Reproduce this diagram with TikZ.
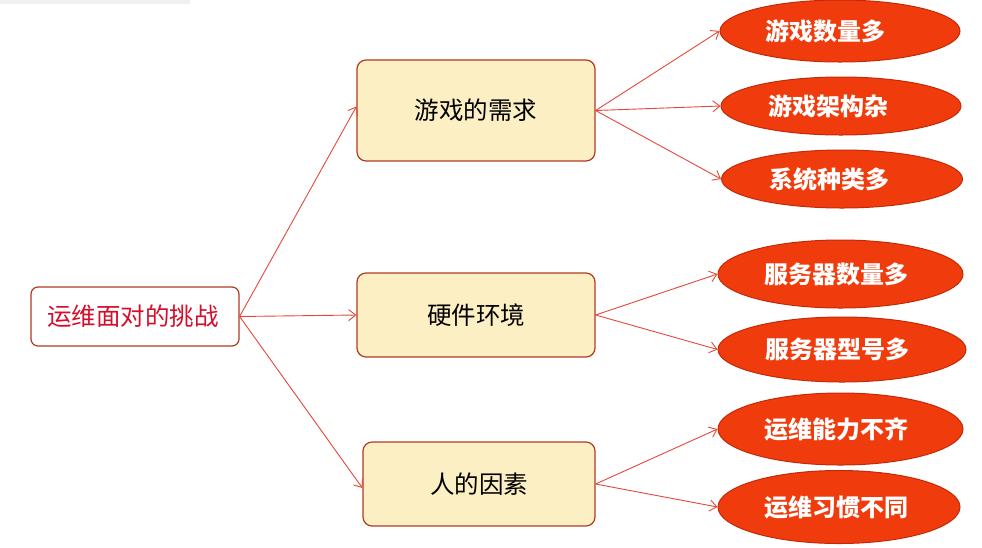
\documentclass[tikz,border=0pt]{standalone}
\usepackage{fontspec}
\newfontfamily\cjk{Noto Sans CJK SC}
\usetikzlibrary{arrows.meta,shapes.geometric}
\definecolor{boxfill}{HTML}{FDEFC4}
\definecolor{boxedge}{HTML}{B03A22}
\definecolor{ellfill}{HTML}{F03C0C}
\definecolor{elledge}{HTML}{C42A08}
\definecolor{roottext}{HTML}{D40F2C}
\definecolor{arrowc}{HTML}{E5473A}
\newcommand{\lft}[1]{\kern-#1pt}
\begin{document}
\begin{tikzpicture}[x=1pt,y=-1pt,
  txt/.style={font=\cjk\fontsize{24.5}{26}\selectfont},
  rootbox/.style={txt,draw=boxedge,line width=1.2pt,fill=white,rounded corners=7pt,
    minimum width=208pt,minimum height=59pt,inner sep=0pt,text=roottext},
  midbox/.style={txt,draw=boxedge,line width=1.2pt,fill=boxfill,rounded corners=9pt,
    minimum width=238pt,inner sep=0pt,text=black},
  leaf/.style={ellipse,draw=elledge,line width=1pt,fill=ellfill,text=white,
    inner sep=0pt,minimum width=242pt,font=\cjk\bfseries\fontsize{24}{26}\selectfont},
  conn/.style={draw=arrowc,line width=0.9pt,-{Straight Barb[length=7pt,width=11pt]}}
]
\useasboundingbox (0,0) rectangle (982,547);
\fill[black!6] (0,0) rectangle (190,4);
\node[rootbox] (root) at (135,316.5) {\lft{4}运维面对的挑战};
\node[midbox,minimum height=101pt] (m1) at (476,110.5) {游戏的需求};
\node[midbox,minimum height=84pt] (m2) at (476,315) {硬件环境};
\node[midbox,minimum width=232pt,minimum height=84pt] (m3) at (479,484) {人的因素};
\node[leaf,minimum height=62pt,minimum width=240pt] (e1) at (840,31) {\lft{30}游戏数量多};
\node[leaf,minimum height=58pt,minimum width=240pt] (e2) at (841,106) {\lft{26}游戏架构杂};
\node[leaf,minimum height=58pt,minimum width=241pt] (e3) at (842,179) {\lft{26}系统种类多};
\node[leaf,minimum height=68pt,minimum width=245pt] (e4) at (840.5,274) {\lft{8}服务器数量多};
\node[leaf,minimum height=65pt,minimum width=248pt] (e5) at (842,349.5) {\lft{10}服务器型号多};
\node[leaf,minimum height=72pt,minimum width=245pt] (e6) at (840.5,429) {\lft{8}运维能力不齐};
\node[leaf,minimum height=73pt,minimum width=242pt] (e7) at (839,507) {\lft{6}运维习惯不同};
\draw[conn] (root.east) -- ([yshift=4pt]m1.west);
\draw[conn] (root.east) -- (m2.west);
\draw[conn] (root.east) -- ([yshift=-4pt]m3.west);
\draw[conn] (m1.east) -- (e1.west);
\draw[conn] (m1.east) -- (e2.west);
\draw[conn] (m1.east) -- (e3.west);
\draw[conn] (m2.east) -- (e4.west);
\draw[conn] (m2.east) -- (e5.west);
\draw[conn] (m3.east) -- (e6.west);
\draw[conn] (m3.east) -- (e7.west);
\end{tikzpicture}
\end{document}
